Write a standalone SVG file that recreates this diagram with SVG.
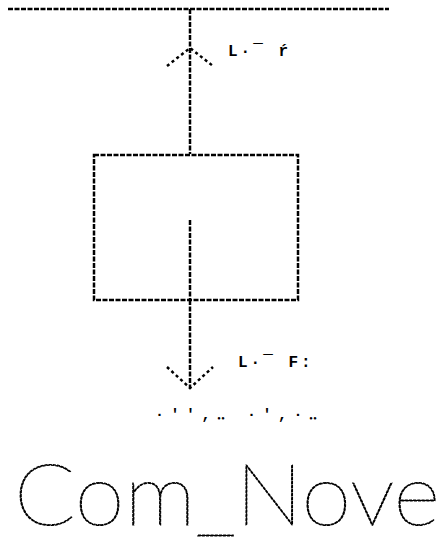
<svg xmlns="http://www.w3.org/2000/svg" width="442" height="542" viewBox="0 0 442 542">
<style>
.ln{fill:none;stroke:#000;stroke-width:2.5;stroke-dasharray:5 1.5}
.ar{fill:none;stroke:#000;stroke-width:2.5;stroke-dasharray:3 3}
.lbl{font-family:"Liberation Mono","Courier New",monospace;font-size:16px;font-weight:bold;fill:#000;letter-spacing:3px}
.row{font-family:"Liberation Mono","Courier New",monospace;font-size:15px;font-weight:bold;fill:#000;letter-spacing:6.5px}
.big{font-family:Lato,"Liberation Sans",Arial,sans-serif;font-size:86px;font-weight:100;fill:#000;stroke:#000;stroke-width:1;stroke-dasharray:3 1}
</style>
<rect width="442" height="542" fill="#fff"/>
<g id="connectors">
<line class="ln" x1="8" y1="9" x2="389" y2="9"/>
<line class="ln" x1="190" y1="9" x2="190" y2="154"/>
<polyline class="ar" points="167,66 190,48 213,66"/>
<line class="ln" x1="190" y1="300" x2="190" y2="388"/>
<polyline class="ar" points="167,367 190,388 213,367"/>
</g>
<g id="box">
<rect class="ln" x="94" y="155" width="204" height="145"/>
<line class="ln" x1="190" y1="220" x2="190" y2="300"/>
</g>
<g id="labels">
<text class="lbl" x="228" y="56">L·‾  ŕ</text>
<text class="lbl" x="238" y="367">L·‾  F:</text>
<text class="row" x="155" y="419">·'',‥  ·',·‥</text>
<text class="big" x="14" y="525" textLength="426" lengthAdjust="spacingAndGlyphs">Com_Nove</text>
</g>
</svg>
